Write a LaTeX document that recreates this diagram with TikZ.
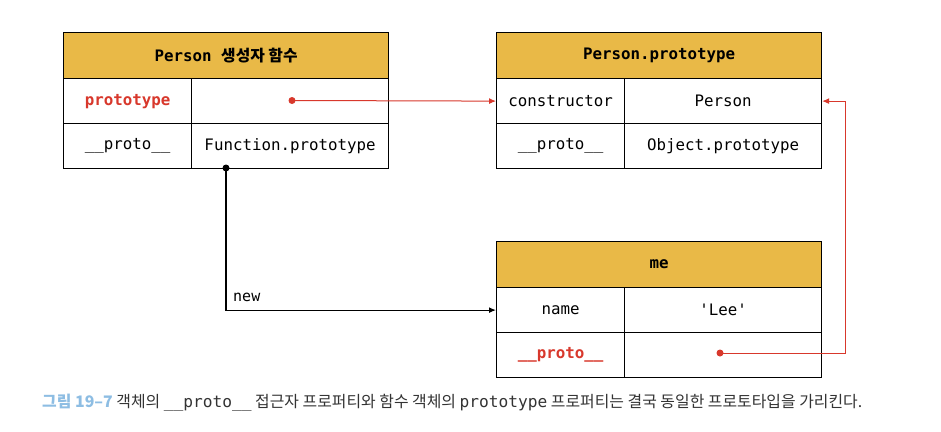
\documentclass[tikz,border=0pt]{standalone}
\usepackage{fontspec}
\setmonofont{DejaVu Sans Mono}
\newfontfamily\krfont{Noto Sans CJK KR}
\usetikzlibrary{arrows.meta}

\definecolor{hdrfill}{HTML}{E9B947}
\definecolor{linkred}{HTML}{D8382C}
\definecolor{capblue}{HTML}{8DBDE3}
\definecolor{captext}{HTML}{333333}

\newcommand{\cellfont}{\ttfamily\fontsize{15.8}{18}\selectfont}

\tikzset{
  base/.style={draw=black, line width=1.2pt, inner sep=0pt, anchor=north west,
    font=\cellfont},
  hdr/.style={base, fill=hdrfill, minimum width=325pt, minimum height=46pt,
    font=\cellfont\bfseries},
  keycell/.style={base, fill=white, minimum width=128pt, minimum height=45pt},
  valcell/.style={base, fill=white, minimum width=197pt, minimum height=45pt},
  redkey/.style={text=linkred, font=\cellfont\bfseries},
  rdot/.style={circle, fill=linkred, inner sep=0pt, minimum size=7pt},
  bdot/.style={circle, fill=black, inner sep=0pt, minimum size=7pt},
  redlink/.style={draw=linkred, line width=1pt, -{Latex[length=7pt,width=6pt]}},
  blklink/.style={draw=black, line width=1.2pt, -{Latex[length=7pt,width=6pt]}}
}

\begin{document}
\begin{tikzpicture}[x=1pt, y=-1pt]
\useasboundingbox[fill=white] (0,0) rectangle (941,431);

% constructor function object
\node[hdr] (fh) at (63,32) {Person {\krfont\bfseries 생성자 함수}};
\node[keycell, redkey] (fk1) at (63,78) {prototype};
\node[valcell] (fv1) at (191,78) {};
\node[keycell] (fk2) at (63,123) {\_\_proto\_\_};
\node[valcell] (fv2) at (191,123) {Function.prototype};

% prototype object
\node[hdr] (ph) at (496,32) {Person.prototype};
\node[keycell] (pk1) at (496,78) {constructor};
\node[valcell] (pv1) at (624,78) {Person};
\node[keycell] (pk2) at (496,123) {\_\_proto\_\_};
\node[valcell] (pv2) at (624,123) {Object.prototype};

% instance
\node[hdr] (mh) at (496,241) {me};
\node[keycell] (mk1) at (496,287) {name};
\node[valcell] (mv1) at (624,287) {'Lee'};
\node[keycell, redkey] (mk2) at (496,332) {\_\_proto\_\_};
\node[valcell] (mv2) at (624,332) {};

% links
\node[rdot] (d1) at (292,100.5) {};
\draw[redlink] (d1.center) -- (pk1.west);

\node[bdot] (d0) at (226,168) {};
\draw[blklink] (d0.center) |- (mk1.west);
\node[anchor=south west, inner sep=0pt, font=\ttfamily\fontsize{15}{16}\selectfont] (newlbl) at (233,302) {new};

\node[rdot] (d2) at (720,353) {};
\coordinate (turn) at (845,353);
\draw[redlink] (d2.center) -- (turn) |- (pv1.east);

% caption
\node[anchor=west, inner sep=0pt, text=captext, font=\krfont\fontsize{15.9}{18}\selectfont] (cap) at (42,403)
  {{\color{capblue}\bfseries 그림 19–7} 객체의 {\ttfamily\fontsize{16.2}{18}\selectfont \_\_proto\_\_} 접근자 프로퍼티와 함수 객체의 {\ttfamily\fontsize{16.2}{18}\selectfont prototype} 프로퍼티는 결국 동일한 프로토타입을 가리킨다.};
\end{tikzpicture}
\end{document}
